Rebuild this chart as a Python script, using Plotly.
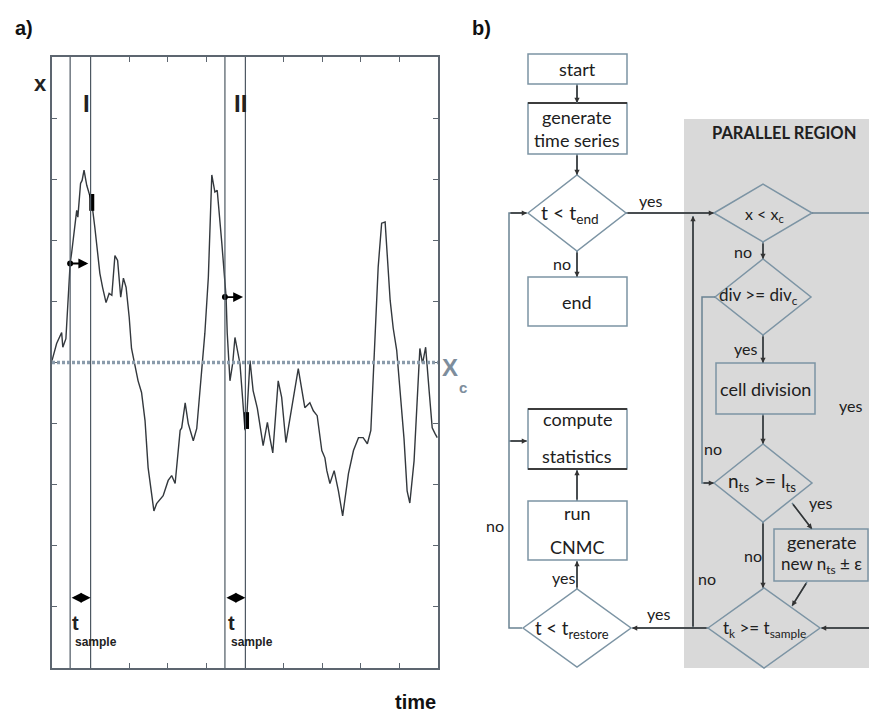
import plotly.graph_objects as go

W, H = 869, 718

# ---------------- panel a data ----------------
t_vals = [0.0, 0.12, 0.25, 0.28, 0.36, 0.47, 0.51, 0.64, 0.67, 0.74,
          0.78, 0.83, 0.90, 0.98, 1.03, 1.11, 1.24, 1.31, 1.40, 1.48,
          1.55, 1.63, 1.70, 1.78, 1.85, 1.92, 2.00, 2.06, 2.15, 2.23,
          2.32, 2.41, 2.49, 2.58, 2.64, 2.71, 2.88, 3.01, 3.10, 3.19,
          3.32, 3.36, 3.45, 3.53, 3.66, 3.75, 3.83, 3.88, 3.96, 4.05,
          4.14, 4.22, 4.28, 4.40, 4.48, 4.51, 4.54, 4.61, 4.68, 4.74,
          4.87, 4.96, 5.00, 5.04, 5.13, 5.21, 5.32, 5.47, 5.58, 5.65,
          5.72, 5.86, 5.95, 6.06, 6.17, 6.38, 6.55, 6.68, 6.77, 6.87,
          6.99, 7.07, 7.12, 7.20, 7.31, 7.42, 7.53, 7.68, 7.81, 7.94,
          8.06, 8.17, 8.26, 8.34, 8.45, 8.54, 8.63, 8.76, 8.84, 8.93,
          9.02, 9.12, 9.20, 9.27, 9.38, 9.46, 9.53, 9.60, 9.68, 9.77,
          9.85, 9.92, 9.98]
x_vals = [0.03, 0.31, 0.49, 0.25, 0.39, 1.62, 1.80, 2.49, 2.38, 2.93,
          2.98, 3.15, 2.90, 2.74, 2.62, 2.21, 1.46, 1.23, 0.98, 1.13,
          1.10, 1.75, 1.67, 1.07, 1.38, 1.23, 0.74, 0.23, -0.05, -0.30,
          -0.49, -0.95, -1.72, -2.21, -2.43, -2.31, -2.18, -1.93, -1.85, -1.98,
          -1.11, -1.07, -0.66, -1.00, -1.28, -1.08, -0.46, 0.0, 0.48, 1.39,
          3.07, 2.79, 2.82, 1.95, 1.39, 1.07, 0.48, -0.30, -0.02, 0.41,
          -0.02, -0.74, -1.11, -0.95, 0.03, -0.46, -0.75, -1.36, -0.98, -1.25,
          -1.48, -0.30, -0.57, -1.31, -0.90, -0.10, -0.74, -0.66, -0.79, -0.87,
          -1.44, -1.56, -1.77, -1.98, -1.77, -2.10, -2.51, -1.82, -1.44, -1.23,
          -1.23, -1.33, -1.11, -0.02, 1.56, 2.28, 2.30, 1.02, 0.56, 0.20,
          -0.51, -1.25, -2.10, -2.30, -1.61, -0.51, 0.23, -0.02, 0.25, -0.46,
          -1.07, -1.16, -1.23]
x_c = 0.0
window_start = [0.47, 4.48]
t_sample = 0.53
window_labels = ["I", "II"]
trigger_x = [1.62, 1.07]
sample_marker_t = [1.03, 5.04]
sample_marker_x = [2.62, -0.95]
interval_y = -3.85

# ---------------- panel b data ----------------
node_labels = ["start", "generate<br>time series", "t < t<sub>end</sub>", "end",
               "compute", "statistics", "run", "CNMC", "t < t<sub>restore</sub>",
               "x < x<sub>c</sub>", "div >= div<sub>c</sub>", "cell division",
               "n<sub>ts</sub> >= l<sub>ts</sub>", "generate", "new n<sub>ts</sub> ± ε",
               "t<sub>k</sub> >= t<sub>sample</sub>"]
edge_labels = ["yes", "no", "no", "yes", "yes", "no", "yes", "no", "no", "yes", "yes", "no"]
region_label = "PARALLEL REGION"

# ---------------- layout geometry (pixels) ----------------
FONT = "Lato, Open Sans, sans-serif"
NARROW = "Liberation Sans Narrow, Liberation Sans, Arial, sans-serif"
BOX = "#7c94a4"
LINE = "#6a8292"
TXT = "#202020"

fig = go.Figure()

fig.add_trace(go.Scatter(x=t_vals, y=x_vals, mode="lines",
                         line=dict(color="#33383d", width=1.4),
                         xaxis="x", yaxis="y", hoverinfo="skip", showlegend=False))
fig.add_trace(go.Scatter(x=sample_marker_t, y=sample_marker_x, mode="markers",
                         marker=dict(symbol="line-ns", size=12, line=dict(width=5, color="black")),
                         xaxis="x", yaxis="y", hoverinfo="skip", showlegend=False))
fig.add_trace(go.Scatter(x=window_start, y=trigger_x, mode="markers",
                         marker=dict(symbol="circle", size=6, color="black"),
                         xaxis="x", yaxis="y", hoverinfo="skip", showlegend=False))

shapes = []
ann = []

# window lines
for ws in window_start:
    for xv in (ws, ws + t_sample):
        shapes.append(dict(type="line", xref="x", yref="y domain", x0=xv, x1=xv, y0=0, y1=1,
                           line=dict(color="#4d5862", width=1.2)))
# x_c line
shapes.append(dict(type="line", xref="x domain", yref="y", x0=0, x1=1, y0=x_c, y1=x_c,
                   line=dict(color="#8a9bab", width=3.5, dash="3px,2px")))

for ws, ty in zip(window_start, trigger_x):
    ann.append(dict(xref="x", yref="y", axref="x", ayref="y", x=ws + 0.47, y=ty, ax=ws, ay=ty,
                    text="", showarrow=True, arrowhead=2, arrowsize=1.1, arrowwidth=1.8,
                    arrowcolor="black"))
    ann.append(dict(xref="x", yref="y", axref="x", ayref="y", x=ws + t_sample, y=interval_y,
                    ax=ws, ay=interval_y, text="", showarrow=True, arrowhead=2, arrowside="end+start",
                    arrowsize=1.1, arrowwidth=1.8, arrowcolor="black"))

def px_text(x, y, text, size, font=FONT, color=TXT, xanchor="center", yanchor="middle"):
    ann.append(dict(xref="x2", yref="y2", x=x, y=y, text=text, showarrow=False,
                    font=dict(family=font, size=size, color=color),
                    xanchor=xanchor, yanchor=yanchor))

# panel a labels
px_text(24, 28, "<b>a)</b>", 20, font="Liberation Sans, Arial", color="#111")
px_text(481, 28, "<b>b)</b>", 20, font="Liberation Sans, Arial", color="#111")
px_text(40, 83, "<b>x</b>", 22, font="Liberation Sans, Arial", color="#222")
px_text(86, 103, "<b>" + window_labels[0] + "</b>", 24, font=NARROW, color="#222")
px_text(240, 103, "<b>" + window_labels[1] + "</b>", 24, font=NARROW, color="#222")
for xx in (75, 231):
    px_text(xx, 623, "<b>t</b>", 20, font=NARROW, color="#222")
    px_text(xx + 21, 642, "<b>sample</b>", 12, font=NARROW, color="#222")
px_text(438, 702, "<b>time</b>", 20, font=NARROW, color="#111", xanchor="right")
px_text(450, 367, "<b>X</b>", 24, font=NARROW, color="#7d8d9c")
px_text(463, 387, "<b>c</b>", 15, font=NARROW, color="#7d8d9c")

# parallel region
shapes.append(dict(type="rect", xref="x2", yref="y2", x0=684, x1=W + 2, y0=119, y1=668,
                   fillcolor="#d9d9d9", line=dict(width=0), layer="below"))
px_text(784, 133, "<b>" + region_label + "</b>", 16.5)

# boxes: (x0, y0, x1, y1)
boxes = [(528, 54, 627, 84), (528, 103, 627, 154), (528, 277, 627, 326),
         (528, 409, 627, 469), (528, 501, 627, 560), (716, 363, 815, 414),
         (774, 529, 868, 581)]
for b in boxes:
    shapes.append(dict(type="rect", xref="x2", yref="y2", x0=b[0], y0=b[1], x1=b[2], y1=b[3],
                       line=dict(color=BOX, width=1.5), fillcolor="rgba(0,0,0,0)"))
for (xa, xb, yy) in [(528, 627, 103), (528, 627, 409), (528, 627, 469)]:
    shapes.append(dict(type="line", xref="x2", yref="y2", x0=xa, x1=xb, y0=yy, y1=yy,
                       line=dict(color="#3c3c3c", width=2)))

# diamonds: (cx, cy, hw, hh)
diamonds = [(577, 213, 49, 38), (577, 628, 54, 39), (763, 213, 49, 29),
            (763, 297, 48, 38), (763, 483, 49, 39), (764, 628, 56, 40)]
for cx, cy, hw, hh in diamonds:
    shapes.append(dict(type="path", xref="x2", yref="y2",
                       path=f"M {cx-hw},{cy} L {cx},{cy-hh} L {cx+hw},{cy} L {cx},{cy+hh} Z",
                       line=dict(color=BOX, width=1.5)))

# node label positions
node_pos = [(577, 69), (577, 128), (570, 214), (577, 302), (577, 419), (577, 456),
            (577, 513), (577, 547), (572, 629), (764, 214), (758, 296), (765, 389),
            (762, 482), (821, 542), (821, 565), (764, 629)]
node_size = [18, 18, 19.5, 18, 18, 18, 18, 18, 18.5, 16, 17, 18, 19, 18, 17, 17]
for (x, y), lab, s in zip(node_pos, node_labels, node_size):
    px_text(x, y, lab, s)

edge_pos = [(650, 200), (562, 263), (743, 251), (745, 348), (850, 405), (713, 448),
            (820, 502), (753, 555), (707, 578), (658, 613), (563, 577), (495, 525)]
for (x, y), lab in zip(edge_pos, edge_labels):
    px_text(x, y, lab, 16)

# connectors
conns = [
    ([(577, 84), (577, 103)], True),
    ([(577, 154), (577, 175)], True),
    ([(626, 213), (714, 213)], True),
    ([(577, 251), (577, 277)], True),
    ([(812, 213), (W + 2, 213)], False),
    ([(763, 242), (763, 259)], True),
    ([(715, 297), (702, 297), (702, 483), (714, 483)], True),
    ([(763, 335), (763, 363)], True),
    ([(763, 414), (763, 444)], True),
    ([(792, 503), (812, 529)], True),
    ([(763, 522), (763, 588)], True),
    ([(807, 582), (792, 606)], True),
    ([(W + 2, 628), (821, 628)], True),
    ([(708, 628), (632, 628)], True),
    ([(693, 628), (693, 216)], True),
    ([(577, 589), (577, 561)], True),
    ([(577, 501), (577, 470)], True),
    ([(522, 628), (509, 628), (509, 213), (527, 213)], True),
    ([(509, 441), (527, 441)], True),
]
for pts, arrow in conns:
    path = "M " + " L ".join(f"{x},{y}" for x, y in pts)
    shapes.append(dict(type="path", xref="x2", yref="y2", path=path,
                       line=dict(color=LINE, width=1.5)))
    if arrow:
        (x1, y1), (x2, y2) = pts[-2], pts[-1]
        ann.append(dict(xref="x2", yref="y2", axref="x2", ayref="y2", x=x2, y=y2, ax=x1, ay=y1,
                        text="", showarrow=True, arrowhead=2, arrowsize=0.7, arrowwidth=1.5,
                        arrowcolor="#333", standoff=0))

axis_a = dict(showline=True, linecolor="#5d6670", linewidth=2, mirror="ticks",
              ticks="inside", ticklen=5, tickcolor="#5d6670", tickwidth=1.3,
              showticklabels=False, showgrid=False, zeroline=False, dtick=1, tick0=0)

fig.update_layout(
    width=W, height=H, margin=dict(l=0, r=0, t=0, b=0),
    paper_bgcolor="white", plot_bgcolor="rgba(0,0,0,0)",
    showlegend=False,
    xaxis=dict(domain=[52 / W, 438 / W], range=[0, 10], anchor="y", **axis_a),
    yaxis=dict(domain=[1 - 668 / H, 1 - 57 / H], range=[-5, 5], anchor="x", **axis_a),
    xaxis2=dict(domain=[0, 1], range=[0, W], visible=False, anchor="y2", fixedrange=True),
    yaxis2=dict(domain=[0, 1], range=[H, 0], visible=False, anchor="x2", fixedrange=True),
    shapes=shapes, annotations=ann,
)
fig.write_html("out.html")
